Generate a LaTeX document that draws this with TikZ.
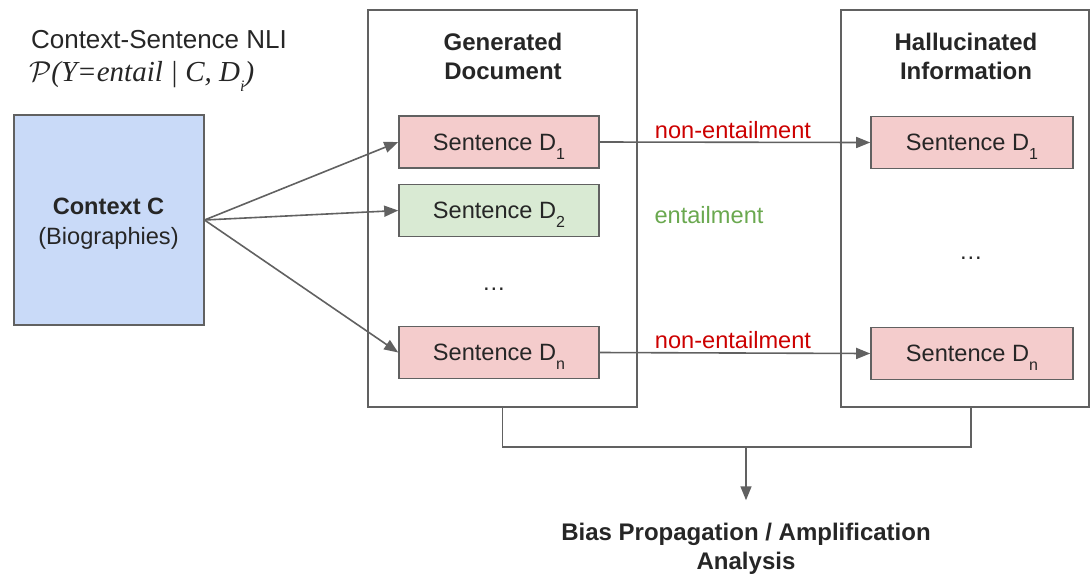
\documentclass[tikz,border=0pt]{standalone}
\usepackage{fontspec}
\setmainfont{Liberation Sans}
\newfontfamily\nliserif{Liberation Serif}
\usetikzlibrary{
    arrows.meta,
    positioning,
    calc
}
\definecolor{ctxblue}{HTML}{C9DAF8}
\definecolor{sentred}{HTML}{F4CCCC}
\definecolor{sentgreen}{HTML}{D9EAD3}
\definecolor{labelred}{HTML}{CC0000}
\definecolor{labelgreen}{HTML}{6AA84F}
\tikzset{
    % Colors
    line color/.style={black!62},
    text color/.style={text=black!85},
    %
    % Boxes
    frame box/.style={draw,line color,line width=1pt,rectangle,inner sep=0pt},
    context box/.style={frame box,fill=ctxblue,minimum width=95pt,minimum height=105pt},
    context text/.style={text color,align=center,font=\fontsize{11.8}{15}\selectfont},
    doc box/.style={frame box,fill=white,minimum height=198.5pt},
    sentence box/.style={frame box,line width=0.8pt,minimum width=100pt,minimum height=26pt,text color},
    red sentence/.style={sentence box,fill=sentred},
    green sentence/.style={sentence box,fill=sentgreen},
    heading/.style={text color,font=\fontsize{12}{14.5}\selectfont\bfseries,align=center},
    %
    % Arrows
    arrow tip/.tip={Triangle[length=7pt,width=5.5pt]},
    arr/.style={->,>={arrow tip},line color,line width=0.8pt},
    conn/.style={line color,line width=0.8pt}
}
\tikzstyle{every node}=[font=\fontsize{11.8}{14.5}\selectfont]
\newcommand{\dsub}[1]{\raisebox{-0.75ex}[0pt][0pt]{\fontsize{8}{8}\selectfont #1}}

\begin{document}
\begin{tikzpicture}[x=0.5pt,y=-0.5pt]
        \useasboundingbox (0,0) rectangle (1091,574);
        % left side
        \node[text color,anchor=west,font=\fontsize{13}{15}\selectfont] (nli) at (24,40) {Context-Sentence NLI};
        \node[text color,anchor=west,font=\fontsize{14.5}{16}\nliserif\itshape] (prob) at (22,75)
        {$\mathcal{P}$(Y=entail | C, D\dsub{\textit{i}})};
        \node[context box] (ctx) at (108.5,220) {};
        \node[context text] (ctxlabel) at ($(ctx.center)+(0,4)$) {\textbf{Context C}\\(Biographies)};
        % the two documents
        \node[doc box,minimum width=134.5pt] (gen) at (502.5,208.5) {};
        \node[doc box,minimum width=124pt] (hal) at (965,208.5) {};
        \node[heading] (genhead) at (503,56) {Generated\\Document};
        \node[heading] (halhead) at (966,56) {Hallucinated\\Information};
        \node[red sentence] (s1) at (499,142) {Sentence D\dsub{1}};
        \node[green sentence] (s2) at (499,210.5) {Sentence D\dsub{2}};
        \node[text color] (gdots) at (494,289) {\dots};
        \node[red sentence] (sn) at (499,352.5) {Sentence D\dsub{n}};
        \node[red sentence,minimum width=101pt] (h1) at (972,142.5) {Sentence D\dsub{1}};
        \node[text color] (hdots) at (971,258) {\dots};
        \node[red sentence,minimum width=101pt] (hn) at (972,353.5) {Sentence D\dsub{n}};
        % context to sentences
        \draw[arr] (ctx.east) -- (s1.west);
        \draw[arr] (ctx.east) -- (s2.west);
        \draw[arr] (ctx.east) -- (sn.west);
        % entailment labels
        \draw[arr] (s1.east) -- (h1.west);
        \draw[arr] (sn.east) -- (hn.west);
        \node[text=labelred] (ne1) at (733,130) {non-entailment};
        \node[text=labelgreen] (ent) at (709,215) {entailment};
        \node[text=labelred] (nen) at (733,340) {non-entailment};
        % analysis
        \node[heading] (bias) at (746,549) {Bias Propagation / Amplification\\Analysis};
        \coordinate (hb) at (971,447);
        \coordinate (jn) at (746,447);
        \draw[conn] (gen.south) |- (hb) -- (hb |- hal.south);
        \draw[arr,shorten >=8pt] (jn) -- (jn |- bias.north);
    \end{tikzpicture}
\end{document}
